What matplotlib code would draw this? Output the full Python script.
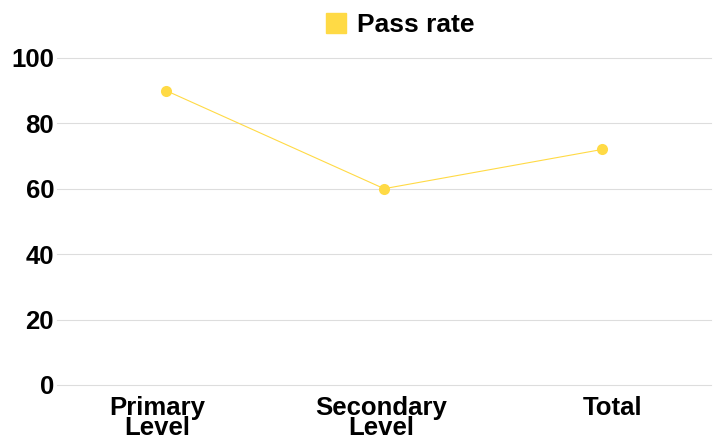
import matplotlib.pyplot as plt
from matplotlib.patches import Patch
from matplotlib.transforms import ScaledTranslation

plt.rcParams['font.family'] = ['Liberation Sans', 'DejaVu Sans']

categories = ['Primary\nLevel', 'Secondary\nLevel', 'Total']
pass_rate = [90, 60, 72]
yticks = [0, 20, 40, 60, 80, 100]
color = '#FFDA45'

fig = plt.figure(figsize=(7.2, 4.45), dpi=100)
ax = fig.add_axes([0.079, 0.135, 0.909, 0.735])

x = range(len(categories))
ax.plot(x, pass_rate, color=color, lw=0.8, marker='o', markersize=8,
        markeredgewidth=0, zorder=3, clip_on=False)

ax.set_xlim(-0.5, len(categories) - 0.5)
ax.set_ylim(0, 100)
ax.set_yticks(yticks)
ax.set_yticklabels([str(v) for v in yticks], fontsize=18.5, fontweight='bold')
ax.set_xticks(list(x))
ax.set_xticklabels(categories, fontsize=18.5, fontweight='bold', linespacing=0.8)
ax.tick_params(axis='both', length=0)
ax.tick_params(axis='y', pad=2)
ax.tick_params(axis='x', pad=8)
ax.grid(axis='y', color='#dddddd', lw=0.8, clip_on=False)
ax.set_axisbelow(True)
for s in ax.spines.values():
    s.set_visible(False)

# small horizontal nudges so the labels sit like the original
for lab, dx in zip(ax.get_xticklabels(), [-0.09, -0.03, 0.10]):
    lab.set_transform(lab.get_transform() + ScaledTranslation(dx, 0, fig.dpi_scale_trans))

fig.legend(handles=[Patch(color=color, label='Pass rate')],
           loc='center', bbox_to_anchor=(0.556, 0.943), frameon=False,
           prop={'size': 19, 'weight': 'bold'}, handlelength=0.75,
           handleheight=0.75, handletextpad=0.45)

fig.savefig('out.png', dpi=100)
